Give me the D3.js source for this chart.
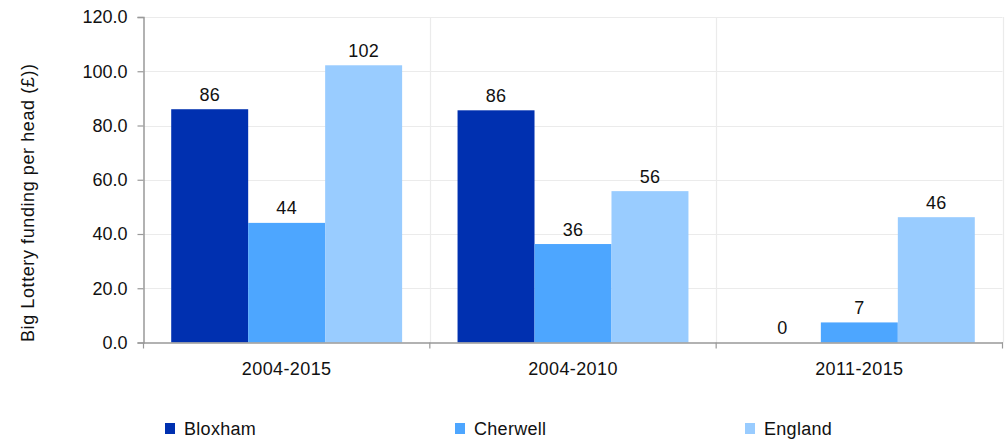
<!DOCTYPE html>
<html><head><meta charset="utf-8">
<script src="https://cdn.jsdelivr.net/npm/d3@7"></script>
<style>body{margin:0;background:#fff}text{font-family:"Liberation Sans",Arial,sans-serif}</style>
</head><body><svg id="c" width="1007" height="439"></svg>
<script>
const categories = ["2004-2015","2004-2010","2011-2015"];
const seriesNames = ["Bloxham","Cherwell","England"];
const bloxham = [86.0, 85.6, 0];
const cherwell = [44.1, 36.3, 7.4];
const england = [102.2, 55.8, 46.2];
const yTicks = [0,20,40,60,80,100,120];
const colors = ["#0030b0","#4da6ff","#99ccff"];
const series = [bloxham, cherwell, england];
const FONT = "Liberation Sans, Arial, sans-serif";
const FS = 18;

const svg = d3.select("#c");
const L = 143.5, R = 1002.5, T = 17, B = 342.5;
const x = d3.scaleBand().domain(categories).range([L, R]).paddingInner(0).paddingOuter(0);
const xs = d3.scaleBand().domain(seriesNames).range([0, x.bandwidth()]).paddingOuter(0.36).paddingInner(0);
const y = d3.scaleLinear().domain([0,120]).range([B, T]);

const g = svg.append("g");
// grid
g.selectAll(".hg").data(yTicks.filter(d=>d>0)).enter().append("line")
  .attr("x1", L).attr("x2", R).attr("y1", d=>Math.round(y(d))+0.5).attr("y2", d=>Math.round(y(d))+0.5)
  .attr("stroke","#ebebeb").attr("stroke-width",1.2);
const vlines = categories.slice(1).map(c=>x(c)).concat([R]);
g.selectAll(".vg").data(vlines).enter().append("line")
  .attr("x1", d=>Math.round(d)+0.5).attr("x2", d=>Math.round(d)+0.5).attr("y1", T).attr("y2", B)
  .attr("stroke","#ebebeb").attr("stroke-width",1.2);

// bars
series.forEach((vals, si) => {
  g.selectAll(".b"+si).data(vals).enter().append("rect")
    .attr("x", (d,i)=>x(categories[i]) + xs(seriesNames[si]))
    .attr("width", xs.bandwidth())
    .attr("y", d=>y(d)).attr("height", d=>B - y(d))
    .attr("fill", colors[si]);
  g.selectAll(".l"+si).data(vals).enter().append("text")
    .attr("x", (d,i)=>x(categories[i]) + xs(seriesNames[si]) + xs.bandwidth()/2)
    .attr("y", d=>y(d) - 8.5)
    .attr("text-anchor","middle").attr("font-size",FS).attr("fill","#111")
    .attr("letter-spacing",0.3)
    .text(d=>Math.round(d));
});

// y axis
const yAxis = d3.axisLeft(y).tickValues(yTicks).tickFormat(d3.format(".1f")).tickSize(6).tickPadding(10);
const ya = svg.append("g").attr("transform",`translate(${L},0)`).call(yAxis);
ya.select(".domain").attr("stroke","#999").attr("stroke-width",1.5);
ya.selectAll(".tick line").attr("stroke","#999").attr("stroke-width",1.2);
ya.selectAll(".tick text").attr("font-size",FS).attr("fill","#111").attr("font-family",FONT);

// x axis
const xAxis = d3.axisBottom(x).tickSize(0).tickPadding(20);
const xa = svg.append("g").attr("transform",`translate(0,${B})`).call(xAxis);
xa.select(".domain").attr("stroke","#999").attr("stroke-width",1.5);
xa.selectAll(".tick text").attr("font-size",FS).attr("fill","#111").attr("font-family",FONT).attr("letter-spacing",0.4);
const bTicks = categories.map(c=>x(c)).concat([R]);
xa.selectAll(".bt").data(bTicks).enter().append("line")
  .attr("x1", d=>d).attr("x2", d=>d).attr("y1",0).attr("y2",6)
  .attr("stroke","#999").attr("stroke-width",1.2);

// y label
svg.append("text").attr("transform",`translate(34,203) rotate(-90)`)
  .attr("text-anchor","middle").attr("font-size",FS).attr("fill","#111")
  .attr("textLength",278).attr("lengthAdjust","spacing")
  .text("Big Lottery funding per head (£))");

// legend
const legX = [165, 455, 745];
const lg = svg.selectAll(".leg").data(seriesNames).enter().append("g")
  .attr("transform",(d,i)=>`translate(${legX[i]},423)`);
lg.append("rect").attr("width",10).attr("height",11).attr("fill",(d,i)=>colors[i]);
lg.append("text").attr("x",19).attr("y",12).attr("font-size",FS).attr("fill","#111").attr("letter-spacing",0.3).text(d=>d);
</script></body></html>
